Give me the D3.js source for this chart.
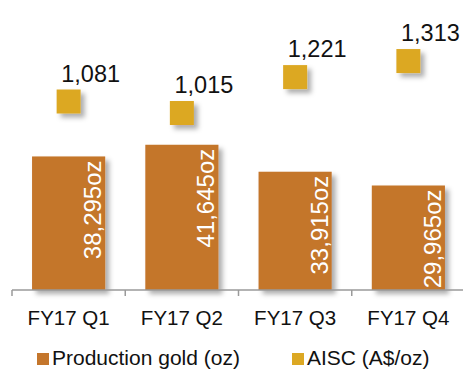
<!DOCTYPE html>
<html>
<head>
<meta charset="utf-8">
<script src="https://cdn.jsdelivr.net/npm/d3@7"></script>
<style>
  html, body { margin: 0; padding: 0; background: #fff; }
  svg { display: block; font-family: "Liberation Sans", Arial, sans-serif; }
</style>
</head>
<body>
<svg id="chart" width="463" height="369"></svg>
<script>
// Quarterly gold production and all-in sustaining cost
const quarters = ["FY17 Q1", "FY17 Q2", "FY17 Q3", "FY17 Q4"];
const productionOz = [38295, 41645, 33915, 29965];
const aiscPerOz = [1081, 1015, 1221, 1313];
const legendLabels = ["Production gold (oz)", "AISC (A$/oz)"];

const barColor = "#C4762C";
const markerColor = "#DCA823";
const axisColor = "#9a9a9a";

const svg = d3.select("#chart");
const W = 463, H = 369;
const plot = { left: 12, right: 465, top: 11, bottom: 290 };

// Drop shadow shared by bars and markers
const defs = svg.append("defs");
const f = defs.append("filter").attr("id", "shadow")
  .attr("x", "-20%").attr("y", "-20%").attr("width", "160%").attr("height", "160%");
f.append("feDropShadow").attr("dx", 4).attr("dy", 4).attr("stdDeviation", 2.5)
  .attr("flood-color", "#000").attr("flood-opacity", 0.32);

const x = d3.scaleBand().domain(quarters).range([plot.left, plot.right]).padding(0);
const barW = x.bandwidth() * 0.646;
const yBar = d3.scaleLinear().domain([0, 80000]).range([plot.bottom, plot.top]);
const yAisc = d3.scaleLinear().domain([0, 1600]).range([plot.bottom, plot.top]);
const fmt = d3.format(",");

// Bars
const bars = svg.append("g");
bars.selectAll("rect").data(productionOz).join("rect")
  .attr("x", (d, i) => x(quarters[i]) + x.bandwidth() / 2 - barW / 2)
  .attr("y", d => yBar(d))
  .attr("width", barW)
  .attr("height", d => yBar(0) - yBar(d))
  .attr("fill", barColor)
  .attr("filter", "url(#shadow)");

// Category axis
const axisG = svg.append("g").attr("transform", `translate(0,${plot.bottom})`);
const axis = d3.axisBottom(x).tickSize(0).tickPadding(20);
axisG.call(axis);
axisG.select(".domain").attr("stroke", axisColor).attr("stroke-width", 1.5)
  .attr("d", `M${plot.left},0H${W + 2}`);
axisG.selectAll(".tick text")
  .attr("font-size", 20.5).attr("fill", "#111")
  .attr("font-family", "Liberation Sans, Arial, sans-serif")
  .attr("dy", "0.72em");
// Tick marks sit on category boundaries
axisG.selectAll("line.bound").data(quarters.concat(["end"])).join("line")
  .attr("class", "bound")
  .attr("x1", (d, i) => i < quarters.length ? x(d) : plot.right)
  .attr("x2", (d, i) => i < quarters.length ? x(d) : plot.right)
  .attr("y1", 0).attr("y2", 6)
  .attr("stroke", axisColor).attr("stroke-width", 1.5);

// Bar value labels, rotated inside the bar end
bars.selectAll("text").data(productionOz).join("text")
  .attr("transform", (d, i) => {
    const bx = x(quarters[i]) + x.bandwidth() / 2 + barW / 2 - 4;
    const by = yBar(d) + 4;
    return `translate(${bx},${by}) rotate(-90)`;
  })
  .attr("text-anchor", "end")
  .attr("font-size", 24)
  .attr("fill", "#fff")
  .text(d => fmt(d) + "oz");

// AISC markers
const mk = 24;
const markers = svg.append("g");
markers.selectAll("rect").data(aiscPerOz).join("rect")
  .attr("x", (d, i) => x(quarters[i]) + x.bandwidth() / 2 - mk / 2)
  .attr("y", d => yAisc(d) - mk / 2)
  .attr("width", mk).attr("height", mk)
  .attr("fill", markerColor)
  .attr("filter", "url(#shadow)");
markers.selectAll("text").data(aiscPerOz).join("text")
  .attr("x", (d, i) => x(quarters[i]) + x.bandwidth() / 2 + 22)
  .attr("y", d => yAisc(d) - 20)
  .attr("text-anchor", "middle")
  .attr("font-size", 23.5)
  .attr("fill", "#111")
  .text(d => fmt(d));

// Legend
const legend = svg.append("g");
const legendItems = [
  { label: legendLabels[0], color: barColor, x: 37 },
  { label: legendLabels[1], color: markerColor, x: 292 }
];
const li = legend.selectAll("g").data(legendItems).join("g")
  .attr("transform", d => `translate(${d.x},0)`);
li.append("rect").attr("x", 0).attr("y", 353).attr("width", 12).attr("height", 12)
  .attr("fill", d => d.color);
li.append("text").attr("x", 15).attr("y", 365)
  .attr("font-size", 21).attr("fill", "#111")
  .text(d => d.label);
</script>
</body>
</html>
